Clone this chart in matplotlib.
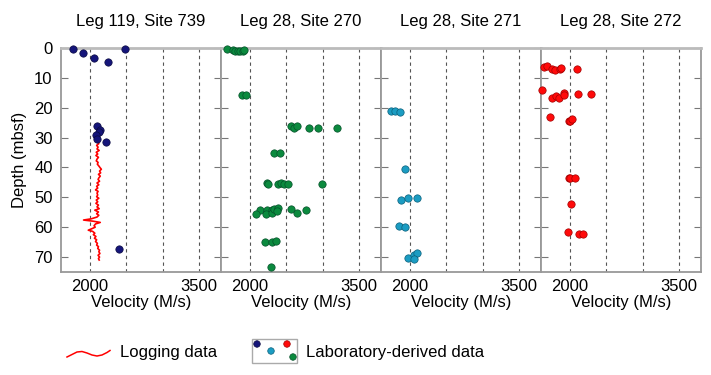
import matplotlib
matplotlib.use('Agg')
import matplotlib.pyplot as plt
from matplotlib.patches import Rectangle

plt.rcParams['font.family'] = ['Liberation Sans', 'DejaVu Sans']

# Panel titles
titles = ['Leg 119, Site 739', 'Leg 28, Site 270', 'Leg 28, Site 271', 'Leg 28, Site 272']

# Laboratory-derived velocity (m/s) and depth (mbsf) for each site
v739 = [1769, 1907, 2058, 2251, 2481, 2099, 2137, 2120, 2086, 2099, 2219, 2398]
d739 = [0.5, 1.7, 3.2, 4.8, 0.5, 26.0, 27.4, 28.2, 29.0, 30.5, 31.6, 67.4]

v270 = [1678, 1761, 1793, 1829, 1866, 1898, 1921, 1884, 1944,
        2563, 2600, 2641, 2811, 2935, 3196, 2334, 2412,
        2233, 2251, 2389, 2426, 2462, 2527, 2990,
        2137, 2086, 2228, 2219, 2297, 2297, 2334, 2380, 2371, 2568, 2650, 2774,
        2205, 2297, 2361, 2283]
d270 = [0.5, 0.8, 0.9, 0.9, 1.1, 1.1, 0.8, 15.9, 15.9,
        26.2, 26.8, 26.2, 26.8, 26.8, 26.8, 35.0, 35.0,
        45.2, 45.7, 45.5, 45.2, 45.7, 45.7, 45.7,
        54.2, 55.5, 54.2, 55.5, 54.2, 55.4, 54.0, 53.7, 54.6, 53.8, 55.3, 54.4,
        64.8, 64.8, 64.5, 73.2]

v271 = [1737, 1788, 1866, 1925, 1875, 1976, 2100, 1852, 1925, 1971, 2054, 2095, 2058]
d271 = [21.0, 21.2, 21.5, 40.4, 50.8, 50.2, 50.2, 59.5, 59.8, 70.2, 69.3, 68.8, 70.7]

v272 = [1636, 1682, 1751, 1788, 1856, 1879, 2095, 1613, 1751, 1811, 1843, 1911, 1911,
        2109, 2292, 1728, 1980, 2003, 2026, 1980, 2003, 2063, 2012, 1966, 2118, 2177]
d272 = [6.4, 6.1, 6.9, 7.4, 7.0, 6.7, 7.0, 14.2, 16.6, 16.2, 16.9, 15.0, 15.9,
        15.3, 15.3, 23.0, 24.6, 24.4, 23.8, 43.4, 43.4, 43.4, 52.2, 61.5, 62.4, 62.4]

# Logging data, Site 739
log_d = [31.5, 32.0, 32.6, 33.2, 33.8, 34.3, 34.9, 35.5, 36.0, 36.6, 37.2, 37.8, 38.3,
         38.9, 39.5, 40.0, 40.6, 41.2, 41.8, 42.3, 42.9, 43.5, 44.0, 44.6, 45.2, 45.8,
         46.3, 46.9, 47.5, 48.0, 48.6, 49.2, 49.8, 50.3, 50.9, 51.5, 52.0, 52.6, 53.2,
         53.8, 54.3, 54.9, 55.5, 56.0, 56.6, 57.2, 57.6, 58.0, 58.4, 58.9, 59.5, 60.0,
         60.6, 61.0, 61.4, 62.0, 62.5, 63.1, 63.7, 64.2, 64.8, 65.4, 66.0, 66.5, 67.1,
         67.7, 68.2, 68.8, 69.4, 70.0, 70.5, 71.0]
log_v = [2105, 2120, 2090, 2110, 2095, 2125, 2085, 2105, 2080, 2115, 2095, 2085, 2110,
         2100, 2120, 2135, 2155, 2130, 2145, 2115, 2140, 2120, 2110, 2130, 2095, 2120,
         2090, 2105, 2075, 2110, 2095, 2105, 2090, 2120, 2085, 2105, 2080, 2115, 2095,
         2125, 2065, 2115, 2090, 2120, 2095, 2015, 1910, 2045, 2140, 2075, 2055, 2070,
         2015, 1975, 2035, 2065, 2045, 2080, 2060, 2090, 2075, 2100, 2090, 2115, 2105,
         2130, 2120, 2135, 2110, 2130, 2115, 2125]

navy = '#15157a'
green = '#0b8a3e'
cyan = '#1b9cc2'
red = '#ff0a0a'

lab_v = [v739, v270, v271, v272]
lab_d = [d739, d270, d271, d272]
colors = [navy, green, cyan, red]
edges = ['#0a0a40', '#05502a', '#0b5f7a', '#a00000']

fig = plt.figure(figsize=(7.11, 3.75), dpi=100)
W, H = 711, 375
lefts = [61, 221, 381, 541]
axes = []
for i in range(4):
    ax = fig.add_axes([lefts[i] / W, 1 - 272 / H, 160 / W, 224 / H])
    axes.append(ax)
    if i == 0:
        ax.plot(log_v, log_d, color='red', lw=1.2, zorder=3)
    ax.scatter(lab_v[i], lab_d[i], s=28, color=colors[i], edgecolors=edges[i],
               linewidths=0.5, zorder=4, clip_on=False)
    for gx in [2000, 2500, 3000, 3500]:
        ax.axvline(gx, color='#555555', lw=0.8, ls=(0, (3, 3)), zorder=1)
    ax.set_xlim(1600, 3800)
    ax.set_ylim(75, 0)
    ax.set_xticks([2000, 3500])
    ax.set_yticks(range(0, 80, 10))
    ax.tick_params(axis='x', length=0, labelsize=12, pad=5)
    ax.tick_params(axis='y', direction='in', length=5, color='#777777',
                   left=True, right=True, labelsize=12, pad=6, labelleft=(i == 0))
    for side in ['left', 'right', 'bottom']:
        ax.spines[side].set_color('#999999')
        ax.spines[side].set_linewidth(1.3)
    ax.spines['top'].set_color('#bbbbbb')
    ax.spines['top'].set_linewidth(2.0)
    ax.set_title(titles[i], fontsize=12, pad=16)
    ax.set_xlabel('Velocity (M/s)', fontsize=12, labelpad=1)

axes[0].set_ylabel('Depth (mbsf)', fontsize=12, labelpad=5)

# Legend drawn in pixel space below the panels
lg = fig.add_axes([0, 0, 1, 1])
lg.set_xlim(0, W)
lg.set_ylim(H, 0)
lg.axis('off')
wave_x = [67, 72, 77, 82, 87, 92, 97, 102, 107, 110]
wave_y = [357, 354.5, 352, 351.5, 353, 355, 356, 355, 352.5, 350.5]
lg.plot(wave_x, wave_y, color='red', lw=1.1)
lg.text(120, 353, 'Logging data', fontsize=12, va='center')
lg.add_patch(Rectangle((252, 339), 45, 24, fill=False, edgecolor='#aaaaaa', lw=1))
lg.scatter([257, 271, 287, 293], [344, 351, 344, 357], s=22,
           color=[navy, cyan, red, green], edgecolors=[edges[0], edges[2], edges[3], edges[1]],
           linewidths=0.5)
lg.text(306, 353, 'Laboratory-derived data', fontsize=12, va='center')

fig.savefig('out.png', dpi=100)
